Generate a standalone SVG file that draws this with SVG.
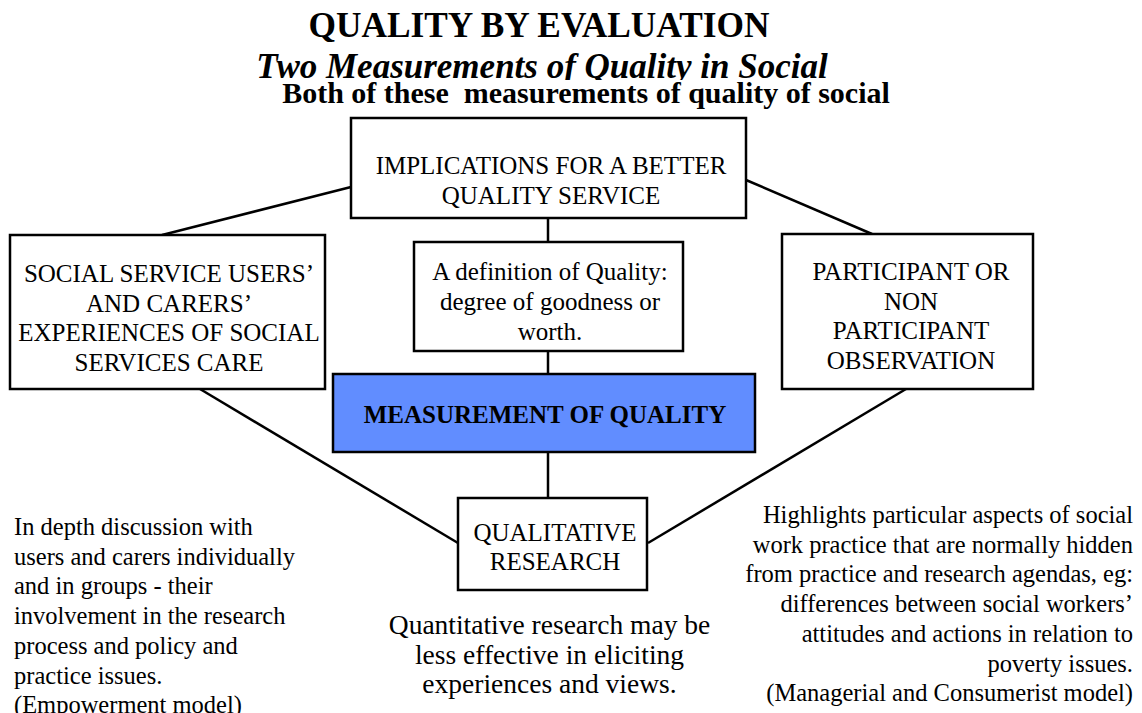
<svg xmlns="http://www.w3.org/2000/svg" width="1142" height="713" viewBox="0 0 1142 713">
<style>
text{font-family:"Liberation Serif","Times New Roman",serif;fill:#000}
.t{font-size:24.5px}
.b{font-size:25px}
.c{text-anchor:middle}
.box{fill:#fff;stroke:#000;stroke-width:2.5}
.ln{stroke:#000;stroke-width:2.5;fill:none}
</style>
<defs>
<clipPath id="subclip"><rect x="0" y="40" width="1142" height="40"/></clipPath>
</defs>
<rect width="1142" height="713" fill="#fff"/>
<g id="title">
<text x="539" y="37" class="c" style="font-size:35.3px;font-weight:bold">QUALITY BY EVALUATION</text>
<text x="542" y="78" class="c" clip-path="url(#subclip)" style="font-size:35px;font-weight:bold;font-style:italic">Two Measurements of Quality in Social</text>
<text x="586" y="103" class="c" xml:space="preserve" style="font-size:30px;font-weight:bold">Both of these  measurements of quality of social</text>
</g>
<g id="connectors">
<line class="ln" x1="548" y1="218" x2="548" y2="242"/>
<line class="ln" x1="548" y1="351" x2="548" y2="374"/>
<line class="ln" x1="548" y1="452" x2="548" y2="497"/>
<line class="ln" x1="351" y1="187" x2="162" y2="235"/>
<line class="ln" x1="746" y1="180" x2="872" y2="234"/>
<line class="ln" x1="200" y1="389" x2="458" y2="543"/>
<line class="ln" x1="906" y1="389" x2="648" y2="543"/>
</g>
<g id="implications">
<rect class="box" x="351" y="118" width="395" height="100"/>
<text class="b c" x="551" y="174">IMPLICATIONS FOR A BETTER</text>
<text class="b c" x="551" y="204">QUALITY SERVICE</text>
</g>
<g id="users">
<rect class="box" x="10" y="235" width="315" height="154"/>
<text class="b c" x="169" y="282">SOCIAL SERVICE USERS’</text>
<text class="b c" x="169" y="311.5">AND CARERS’</text>
<text class="b c" x="169" y="341">EXPERIENCES OF SOCIAL</text>
<text class="b c" x="169" y="370.5">SERVICES CARE</text>
</g>
<g id="definition">
<rect class="box" x="414" y="242" width="269" height="109"/>
<text class="b c" x="550" y="280">A definition of Quality:</text>
<text class="b c" x="550" y="310">degree of goodness or</text>
<text class="b c" x="550" y="340">worth.</text>
</g>
<g id="participant">
<rect class="box" x="782" y="234" width="251" height="155"/>
<text class="b c" x="911" y="280">PARTICIPANT OR</text>
<text class="b c" x="911" y="309.5">NON</text>
<text class="b c" x="911" y="339">PARTICIPANT</text>
<text class="b c" x="911" y="368.5">OBSERVATION</text>
</g>
<g id="measurement">
<rect x="333" y="374" width="422" height="78" fill="#618dff" stroke="#000" stroke-width="2.5"/>
<text class="c" x="545" y="423" style="font-size:25px;font-weight:bold">MEASUREMENT OF QUALITY</text>
</g>
<g id="qualitative">
<rect class="box" x="458" y="498" width="189" height="92"/>
<text class="b c" x="555" y="541">QUALITATIVE</text>
<text class="b c" x="555" y="570">RESEARCH</text>
</g>
<g id="left-notes">
<text class="t" x="14" y="535">In depth discussion with</text>
<text class="t" x="14" y="564.7">users and carers individually</text>
<text class="t" x="14" y="594.4">and in groups - their</text>
<text class="t" x="14" y="624.1">involvement in the research</text>
<text class="t" x="14" y="653.8">process and policy and</text>
<text class="t" x="14" y="683.5">practice issues.</text>
<text class="t" x="14" y="713.2">(Empowerment model)</text>
</g>
<g id="middle-notes">
<text class="c" x="549.5" y="634" style="font-size:27.5px">Quantitative research may be</text>
<text class="c" x="549.5" y="663.5" style="font-size:27.5px">less effective in eliciting</text>
<text class="c" x="549.5" y="693" style="font-size:27.5px">experiences and views.</text>
</g>
<g id="right-notes" style="text-anchor:end">
<text class="t" x="1133" y="523">Highlights particular aspects of social</text>
<text class="t" x="1133" y="552.7">work practice that are normally hidden</text>
<text class="t" x="1133" y="582.4">from practice and research agendas, eg:</text>
<text class="t" x="1133" y="612.1">differences between social workers’</text>
<text class="t" x="1133" y="641.8">attitudes and actions in relation to</text>
<text class="t" x="1133" y="671.5">poverty issues.</text>
<text class="t" x="1133" y="701.2">(Managerial and Consumerist model)</text>
</g>
</svg>
